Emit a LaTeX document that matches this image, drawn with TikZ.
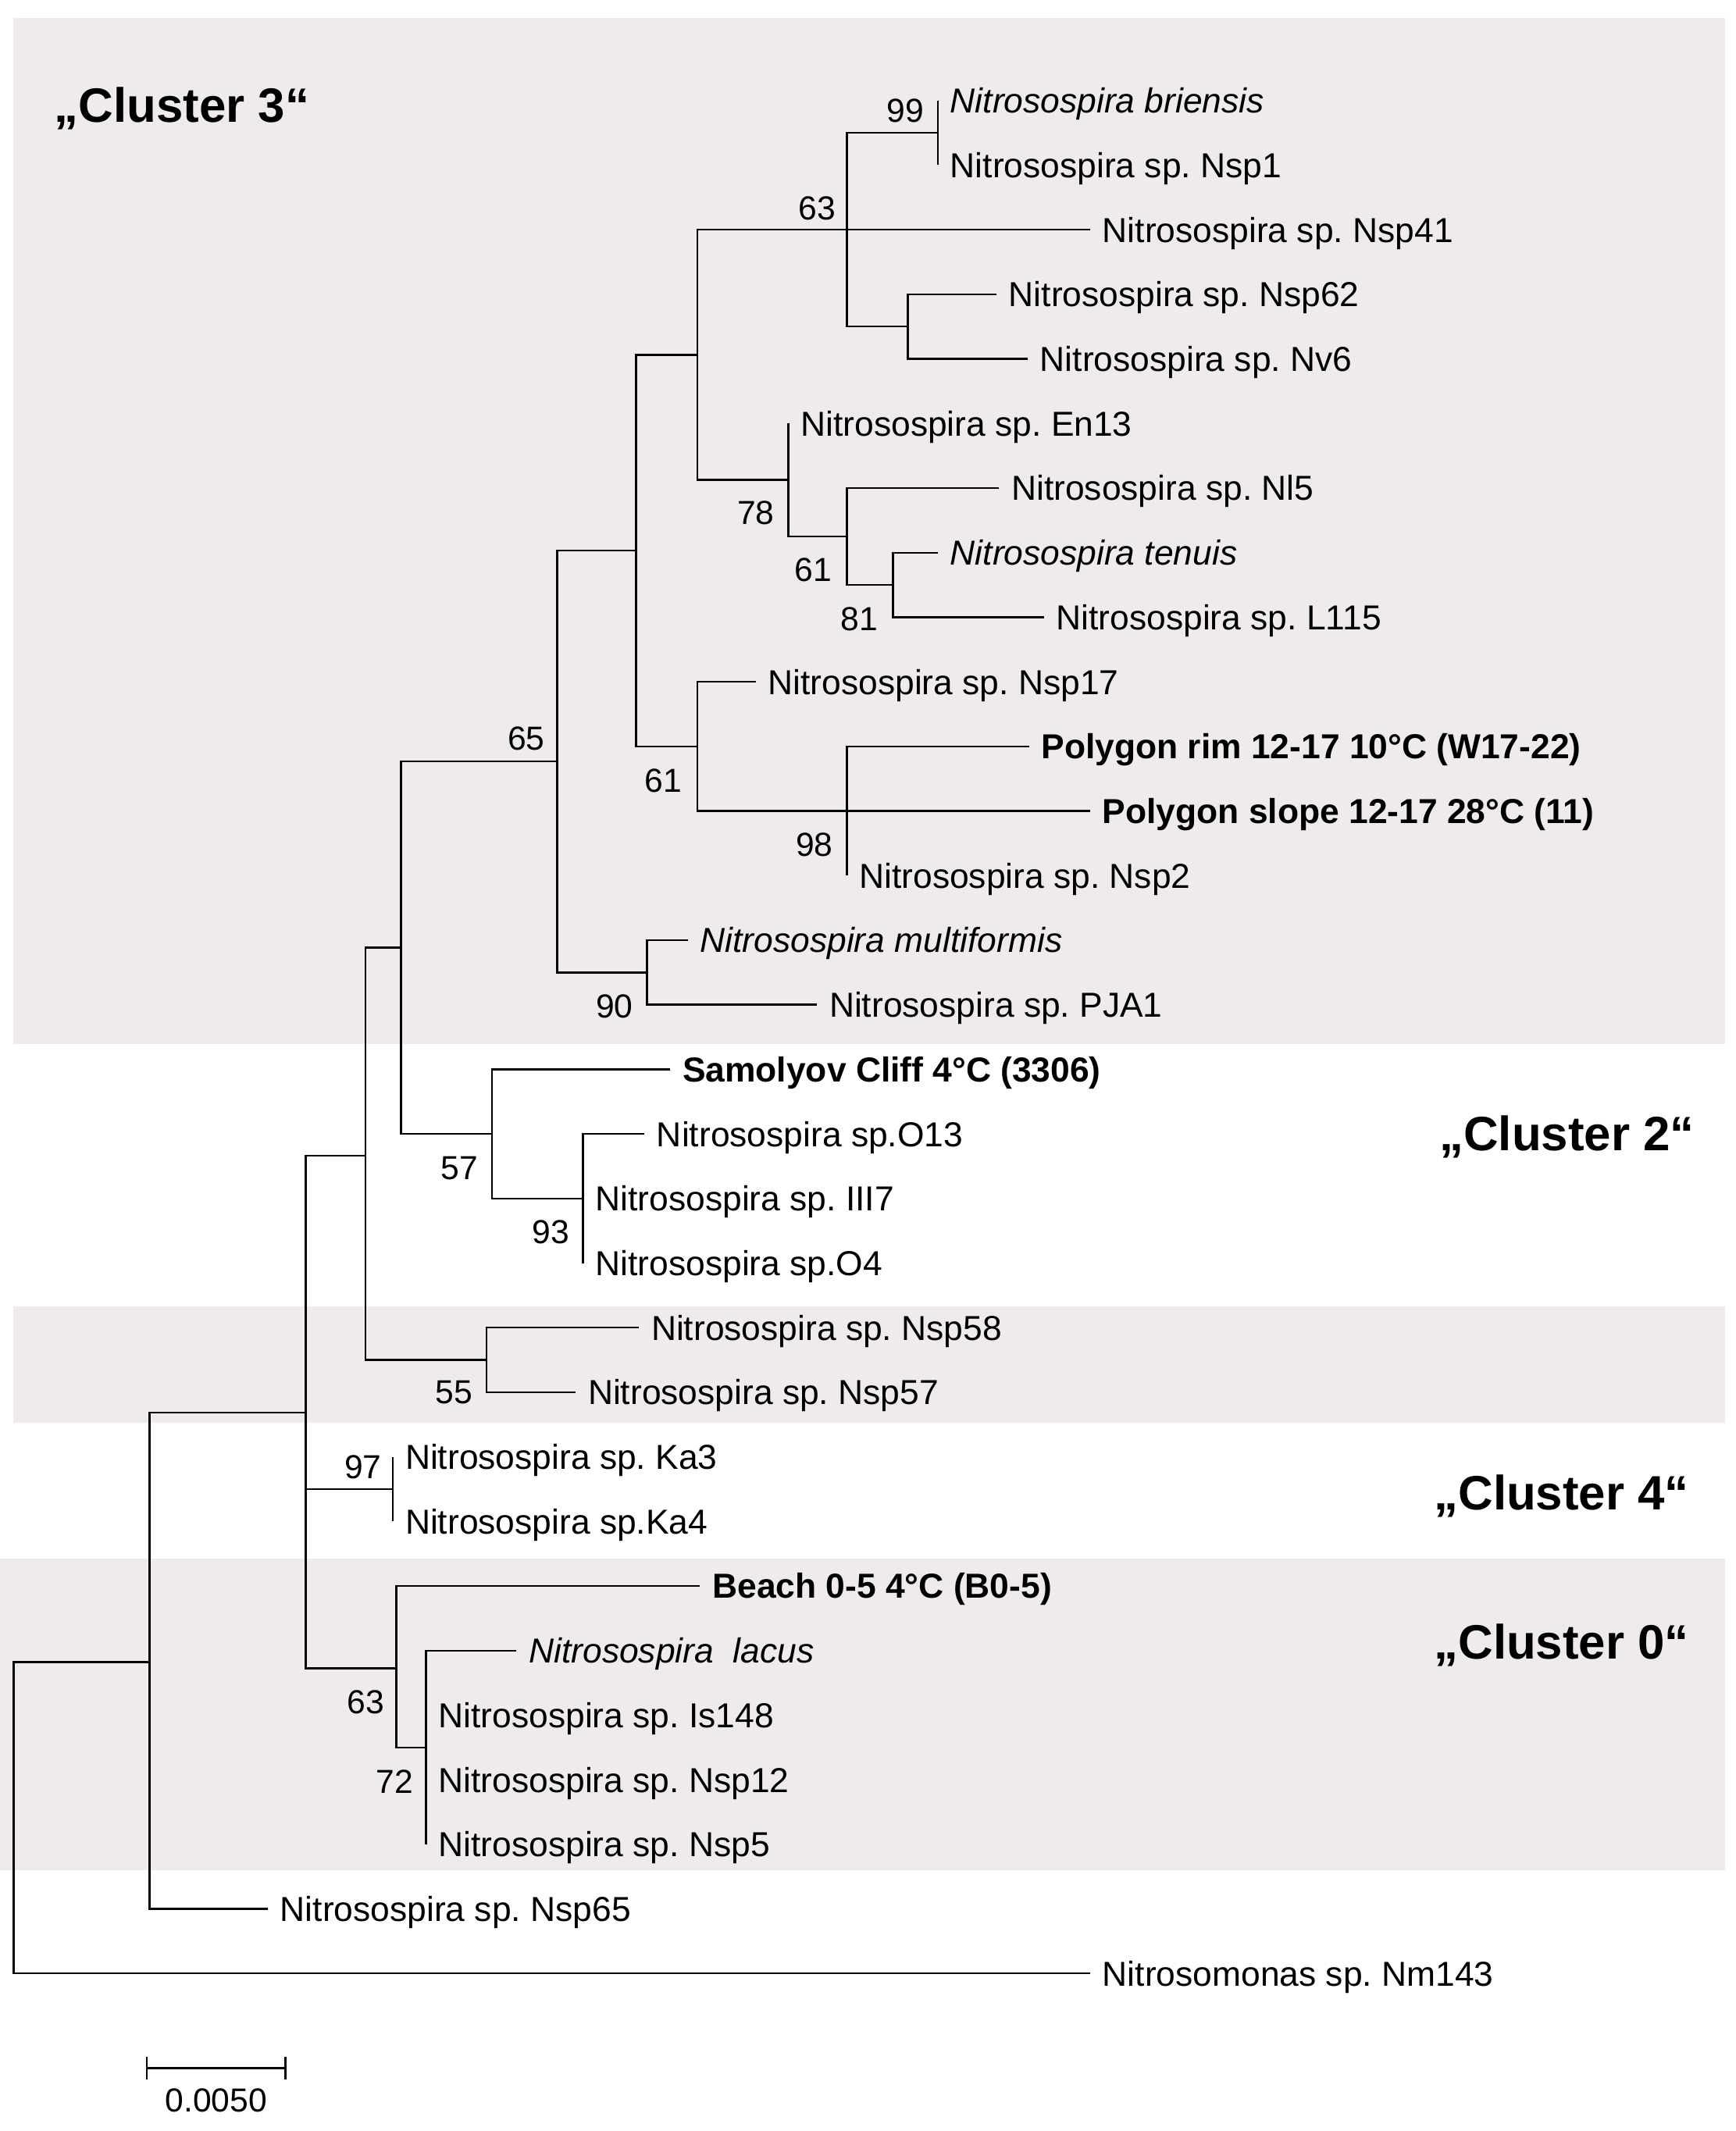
\documentclass[tikz,border=0pt]{standalone}
\usepackage{fontspec}
\setmainfont{Liberation Sans}
\definecolor{bandgray}{HTML}{EEEBEA}
\tikzset{
  br/.style={line width=1.4pt, black},
  tip/.style={anchor=west, inner xsep=9pt, inner ysep=0pt, text height=18.3pt, text depth=0pt, font=\fontsize{25.5}{30}\selectfont},
  boot/.style={anchor=east, inner sep=0pt, text height=17.5pt, text depth=0pt, font=\fontsize{24.5}{29}\selectfont},
  clus/.style={anchor=west, inner sep=0pt, text height=25.4pt, text depth=0pt, font=\fontsize{35.5}{40}\selectfont\bfseries},
  band/.style={fill=bandgray, draw=none},
}
\begin{document}
\frenchspacing
\begin{tikzpicture}[x=1pt,y=-1pt]
\useasboundingbox (0,0) rectangle (1277,1568);
% background bands
\fill[band] (10,13) rectangle (1269,768);
\fill[band] (10,961) rectangle (1269,1047);
\fill[band] (0,1147) rectangle (1269,1376);
% cluster labels
\node[clus] (c3) at (40,77) {„Cluster 3“};
\node[clus] (c2) at (1059,834) {„Cluster 2“};
\node[clus] (c4) at (1055,1098) {„Cluster 4“};
\node[clus] (c0) at (1055,1208) {„Cluster 0“};
% internal nodes
\coordinate (n99) at (690,97.76);
\coordinate (n62) at (668,240.32);
\coordinate (n63) at (623,169.04);
\coordinate (nH) at (657,430.4);
\coordinate (nG) at (623,394.76);
\coordinate (nF) at (580,353.18);
\coordinate (nD) at (513,261.11);
\coordinate (nJ) at (623,596.72);
\coordinate (nI) at (513,549.2);
\coordinate (nE) at (468,405.16);
\coordinate (nL) at (476,715.52);
\coordinate (nK) at (410,560.34);
\coordinate (nP) at (429,881.84);
\coordinate (nN) at (362,834.32);
\coordinate (nM) at (295,697.33);
\coordinate (nO) at (358,1000.64);
\coordinate (nC) at (269,850.5);
\coordinate (nQ) at (289,1095.68);
\coordinate (nS) at (313.5,1285.76);
\coordinate (nR) at (291.5,1227.5);
\coordinate (nB) at (225,1039.5);
\coordinate (nA) at (110,1223);
\coordinate (root) at (10,1337.5);
% tips
\node[tip] (t1) at (690,74) {\itshape Nitrosospira briensis};
\node[tip] (t2) at (690,121.52) {Nitrosospira sp. Nsp1};
\node[tip] (t3) at (802,169.04) {Nitrosospira sp. Nsp41};
\node[tip] (t4) at (733,216.56) {Nitrosospira sp. Nsp62};
\node[tip] (t5) at (756,264.08) {Nitrosospira sp. Nv6};
\node[tip] (t6) at (580,311.6) {Nitrosospira sp. En13};
\node[tip] (t7) at (735,359.12) {Nitrosospira sp. Nl5};
\node[tip] (t8) at (690,406.64) {\itshape Nitrosospira tenuis};
\node[tip] (t9) at (768,454.16) {Nitrosospira sp. L115};
\node[tip] (t10) at (556,501.68) {Nitrosospira sp. Nsp17};
\node[tip] (t11) at (757,549.2) {\bfseries Polygon rim 12-17 10°C (W17-22)};
\node[tip] (t12) at (802,596.72) {\bfseries Polygon slope 12-17 28°C (11)};
\node[tip] (t13) at (623,644.24) {Nitrosospira sp. Nsp2};
\node[tip] (t14) at (506,691.76) {\itshape Nitrosospira multiformis};
\node[tip] (t15) at (601,739.28) {Nitrosospira sp. PJA1};
\node[tip] (t16) at (493,786.8) {\bfseries Samolyov Cliff 4°C (3306)};
\node[tip] (t17) at (474,834.32) {Nitrosospira sp.O13};
\node[tip] (t18) at (429,881.84) {Nitrosospira sp. III7};
\node[tip] (t19) at (429,929.36) {Nitrosospira sp.O4};
\node[tip] (t20) at (470,976.88) {Nitrosospira sp. Nsp58};
\node[tip] (t21) at (423.5,1024.4) {Nitrosospira sp. Nsp57};
\node[tip] (t22) at (289,1071.92) {Nitrosospira sp. Ka3};
\node[tip] (t23) at (289,1119.44) {Nitrosospira sp.Ka4};
\node[tip] (t24) at (515,1166.96) {\bfseries Beach 0-5 4°C (B0-5)};
\node[tip] (t25) at (380,1214.48) {\itshape Nitrosospira\ \ lacus};
\node[tip] (t26) at (313.5,1262) {Nitrosospira sp. Is148};
\node[tip] (t27) at (313.5,1309.52) {Nitrosospira sp. Nsp12};
\node[tip] (t28) at (313.5,1357.04) {Nitrosospira sp. Nsp5};
\node[tip] (t29) at (197,1404.56) {Nitrosospira sp. Nsp65};
\node[tip] (t30) at (802,1452.08) {Nitrosomonas sp. Nm143};
% branches
\draw[br] (n99) |- (t1.west);
\draw[br] (n99) |- (t2.west);
\draw[br] (n62) |- (t4.west);
\draw[br] (n62) |- (t5.west);
\draw[br] (n63) |- (n99);
\draw[br] (n63) -- (t3.west);
\draw[br] (n63) |- (n62);
\draw[br] (nH) |- (t8.west);
\draw[br] (nH) |- (t9.west);
\draw[br] (nG) |- (t7.west);
\draw[br] (nG) |- (nH);
\draw[br] (nF) |- (t6.west);
\draw[br] (nF) |- (nG);
\draw[br] (nD) |- (n63);
\draw[br] (nD) |- (nF);
\draw[br] (nJ) |- (t11.west);
\draw[br] (nJ) -- (t12.west);
\draw[br] (nJ) |- (t13.west);
\draw[br] (nI) |- (t10.west);
\draw[br] (nI) |- (nJ);
\draw[br] (nE) |- (nD);
\draw[br] (nE) |- (nI);
\draw[br] (nL) |- (t14.west);
\draw[br] (nL) |- (t15.west);
\draw[br] (nK) |- (nE);
\draw[br] (nK) |- (nL);
\draw[br] (nP) |- (t17.west);
\draw[br] (nP) -- (t18.west);
\draw[br] (nP) |- (t19.west);
\draw[br] (nN) |- (t16.west);
\draw[br] (nN) |- (nP);
\draw[br] (nM) |- (nK);
\draw[br] (nM) |- (nN);
\draw[br] (nO) |- (t20.west);
\draw[br] (nO) |- (t21.west);
\draw[br] (nC) |- (nM);
\draw[br] (nC) |- (nO);
\draw[br] (nQ) |- (t22.west);
\draw[br] (nQ) |- (t23.west);
\draw[br] (nS) |- (t25.west);
\draw[br] (nS) |- (t26.west);
\draw[br] (nS) |- (t27.west);
\draw[br] (nS) |- (t28.west);
\draw[br] (nR) |- (t24.west);
\draw[br] (nR) |- (nS);
\draw[br] (nB) |- (nC);
\draw[br] (nB) |- (nQ);
\draw[br] (nB) |- (nR);
\draw[br] (nA) |- (nB);
\draw[br] (nA) |- (t29.west);
\draw[br] (root) |- (nA);
\draw[br] (root) |- (t30.west);
% bootstrap values
\node[boot] (b99) at (680,81) {99};
\node[boot] (b63a) at (615,153) {63};
\node[boot] (b78) at (570,377) {78};
\node[boot] (b61a) at (612,419) {61};
\node[boot] (b81) at (646,455) {81};
\node[boot] (b65) at (401,543) {65};
\node[boot] (b61b) at (502,574) {61};
\node[boot] (b98) at (613,621) {98};
\node[boot] (b90) at (466,740) {90};
\node[boot] (b57) at (352,859) {57};
\node[boot] (b93) at (419,906) {93};
\node[boot] (b55) at (348,1024) {55};
\node[boot] (b97) at (281,1079) {97};
\node[boot] (b63b) at (283,1252) {63};
\node[boot] (b72) at (304,1311) {72};
% scale bar
\coordinate (sL) at (108,1521.7);
\coordinate (sR) at (210,1521.7);
\draw[br] (sL) -- (sR);
\draw[br] ([yshift=-8.5pt]sL) -- ([yshift=8.5pt]sL);
\draw[br] ([yshift=-8.5pt]sR) -- ([yshift=8.5pt]sR);
\node[boot, anchor=center] (scl) at (159,1545) {0.0050};
\end{tikzpicture}
\end{document}
